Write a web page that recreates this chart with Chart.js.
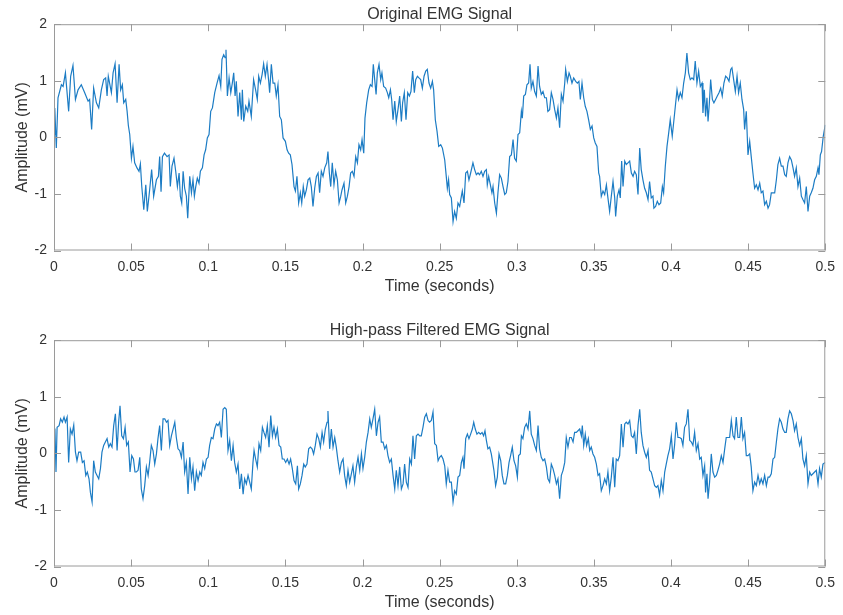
<!DOCTYPE html>
<html>
<head>
<meta charset="utf-8">
<title>EMG Signal</title>
<script src="https://cdn.jsdelivr.net/npm/chart.js@4.4.1/dist/chart.umd.min.js"></script>
<style>
  html, body { margin: 0; padding: 0; background: #fff; }
  body { width: 843px; height: 615px; position: relative; overflow: hidden; }
  .panel { position: absolute; left: 0; width: 843px; height: 299px; }
</style>
</head>
<body>
<div class="panel" style="top:0"><canvas id="emg-original" width="843" height="299"></canvas></div>
<div class="panel" style="top:316px"><canvas id="emg-filtered" width="843" height="299"></canvas></div>
<script>
// values (time in ms, amplitude in mV)
const origTimeMs = [
  0, 0.5, 1.5, 2.6, 4.8, 5.9, 7.4, 9.5, 10.8, 12.3, 13.9, 15.6, 17.7, 19.9, 22.1, 23.1, 24.4, 25.7, 27.5, 29.0,
  30.7, 32.2, 33.5, 34.4, 35.2, 37.2, 38.3, 39.6, 40.9, 42.2, 43.2, 44.3, 45.2, 46.5, 47.4, 48.2, 49.1, 50.2, 51.2, 52.3,
  53.8, 55.1, 56.0, 56.9, 58.2, 59.5, 60.5, 62.0, 63.3, 64.6, 66.4, 67.7, 68.5, 69.4, 70.3, 71.6, 73.3, 74.6, 75.4, 76.5,
  77.8, 78.9, 80.0, 81.1, 81.9, 82.8, 83.7, 84.7, 85.8, 86.7, 88.0, 89.1, 90.1, 91.0, 91.9, 92.9, 94.0, 94.9, 96.2, 97.3,
  98.3, 99.4, 100.5, 101.6, 102.7, 104.2, 105.7, 107.0, 108.1, 108.9, 110.0, 110.9, 111.5, 112.4, 113.5, 114.6, 115.6, 116.5, 117.4, 118.2,
  119.3, 120.4, 121.5, 122.1, 123.0, 124.3, 125.6, 126.4, 127.9, 129.4, 130.7, 131.8, 132.7, 133.8, 134.9, 135.9, 137.0, 138.1, 139.2, 139.8,
  140.9, 142.0, 143.1, 144.1, 145.2, 146.3, 147.4, 148.5, 150.0, 151.1, 152.1, 153.2, 154.3, 155.6, 156.5, 157.5, 158.6, 159.7, 160.6, 161.6,
  162.5, 163.6, 164.7, 165.8, 166.8, 167.9, 169.0, 170.1, 171.2, 172.2, 173.3, 174.4, 175.5, 176.8, 177.6, 178.5, 179.4, 180.4, 181.5, 182.6,
  183.7, 184.8, 185.9, 186.7, 188.0, 189.1, 190.2, 191.3, 192.3, 193.4, 194.5, 195.6, 196.7, 197.7, 198.8, 199.7, 200.8, 201.6, 202.7, 204.0,
  205.1, 206.2, 207.0, 207.9, 208.8, 209.6, 210.7, 211.8, 212.6, 213.7, 215.0, 216.1, 217.0, 218.1, 218.9, 219.8, 220.9, 221.9, 223.0, 224.1,
  225.2, 226.0, 227.1, 228.2, 229.3, 230.4, 231.4, 232.5, 233.6, 234.5, 235.6, 236.6, 237.7, 238.8, 239.9, 241.0, 242.0, 243.1, 244.2, 245.3,
  246.1, 247.2, 248.3, 249.4, 250.7, 251.8, 253.3, 254.3, 255.0, 255.8, 256.5, 257.6, 258.7, 259.7, 260.8, 261.9, 263.0, 264.1, 264.7, 265.8,
  266.9, 268.0, 269.0, 270.1, 271.6, 272.7, 273.8, 274.9, 275.9, 277.0, 278.1, 279.2, 280.3, 280.9, 281.8, 282.9, 283.9, 284.6, 285.7, 286.8,
  287.8, 288.9, 290.0, 291.1, 292.2, 293.2, 294.3, 295.4, 296.5, 297.6, 298.6, 299.7, 300.8, 301.9, 303.0, 303.6, 304.5, 305.6, 306.6, 307.7,
  308.6, 309.4, 310.5, 311.6, 312.7, 313.8, 314.8, 315.9, 317.0, 318.1, 319.2, 320.2, 321.3, 322.4, 323.5, 324.6, 325.7, 326.7, 327.8, 328.9,
  330.0, 331.1, 331.7, 332.8, 333.9, 334.7, 335.8, 336.9, 338.2, 339.3, 340.3, 341.2, 342.3, 343.4, 344.4, 345.5, 346.6, 347.7, 348.8, 349.9,
  350.9, 352.0, 353.1, 353.7, 354.8, 355.9, 357.0, 358.1, 359.1, 360.2, 361.3, 362.4, 363.5, 364.1, 365.2, 366.3, 367.1, 368.0, 368.9, 370.0,
  371.0, 372.1, 373.2, 374.3, 375.4, 376.4, 377.5, 378.6, 379.7, 380.7, 381.8, 382.9, 384.0, 385.1, 386.1, 387.2, 388.3, 388.9, 390.0, 391.1,
  392.2, 393.3, 394.4, 395.2, 396.3, 397.4, 398.5, 399.5, 400.8, 401.9, 402.8, 403.9, 404.9, 406.0, 407.1, 408.2, 409.3, 410.3, 411.4, 412.5,
  413.6, 414.7, 415.7, 416.8, 417.9, 419.0, 420.1, 420.7, 421.6, 422.4, 423.3, 424.0, 424.8, 425.7, 426.8, 427.8, 428.9, 430.0, 431.1, 432.2,
  433.2, 434.3, 435.4, 436.5, 437.6, 438.7, 439.5, 440.6, 441.7, 442.8, 443.8, 444.9, 446.0, 447.1, 447.7, 448.8, 449.9, 451.0, 452.0, 453.1,
  454.2, 455.3, 456.4, 457.5, 458.5, 459.6, 460.7, 461.8, 462.9, 463.9, 465.0, 466.1, 467.2, 468.3, 469.3, 470.4, 471.5, 472.6, 473.7, 474.7,
  475.8, 476.9, 478.0, 479.1, 480.1, 481.2, 482.3, 483.4, 484.5, 485.5, 486.6, 487.7, 488.8, 489.9, 490.9, 492.0, 493.1, 494.2, 495.3, 495.9,
  496.8, 497.6, 498.7, 500.0
];
const origAmp = [
  0.05, 0.52, -0.19, 0.70, 0.93, 0.90, 1.14, 0.46, 1.08, 1.27, 0.67, 0.84, 0.93, 0.79, 0.64, 0.67, 0.14, 0.87, 0.61, 0.52,
  0.84, 1.02, 1.05, 0.73, 1.08, 0.79, 1.14, 1.30, 0.61, 1.29, 0.84, 0.93, 0.61, 0.67, 0.46, 0.21, 0.05, -0.37, -0.16, -0.45,
  -0.54, -0.60, -0.47, -0.87, -1.28, -0.84, -1.31, -0.93, -0.57, -1.04, -0.75, -0.69, -0.34, -0.96, -0.34, -0.28, -0.34, -0.31, -0.87, -0.51,
  -0.37, -0.60, -0.87, -0.63, -1.04, -1.16, -0.60, -0.90, -1.04, -1.43, -0.69, -0.98, -0.75, -1.04, -0.87, -0.72, -0.81, -0.60, -0.54, -0.31,
  -0.22, -0.01, 0.05, 0.46, 0.52, 0.79, 0.96, 1.09, 0.90, 1.38, 1.46, 1.41, 1.55, 0.73, 1.05, 0.79, 0.96, 1.14, 0.73, 0.99,
  0.37, 0.79, 0.31, 0.84, 0.28, 0.55, 0.46, 0.64, 0.37, 1.02, 0.84, 0.67, 1.08, 0.96, 1.11, 1.30, 1.08, 1.29, 0.99, 0.79,
  1.29, 0.96, 0.96, 0.73, 0.93, 0.37, 0.31, -0.01, -0.07, -0.22, -0.28, -0.31, -0.48, -0.87, -0.95, -0.69, -1.16, -0.98, -1.16, -0.87,
  -1.04, -0.93, -0.75, -0.72, -0.87, -1.22, -0.90, -0.69, -0.63, -0.98, -0.60, -0.69, -0.54, -0.45, -0.25, -0.63, -0.87, -0.45, -0.84, -0.60,
  -0.75, -1.16, -1.04, -0.93, -0.81, -1.16, -1.04, -0.87, -0.63, -0.60, -0.69, -0.34, -0.45, -0.13, -0.22, -0.04, -0.28, 0.34, 0.61, 0.84,
  0.93, 0.90, 1.29, 1.02, 0.76, 1.14, 1.29, 1.02, 1.14, 0.90, 0.87, 0.79, 0.70, 0.84, 0.67, 0.31, 0.64, 0.28, 0.49, 0.73,
  0.28, 0.61, 0.79, 0.31, 0.79, 0.73, 0.81, 1.17, 0.79, 1.02, 1.08, 1.05, 1.02, 0.87, 1.08, 1.17, 1.20, 0.96, 0.87, 0.99,
  0.84, 0.31, 0.11, -0.16, -0.13, -0.19, -0.40, -0.69, -0.90, -0.75, -1.01, -1.07, -1.49, -1.31, -1.43, -1.16, -1.22, -1.04, -0.95, -1.16,
  -0.63, -0.60, -0.75, -0.63, -0.45, -0.57, -0.66, -0.63, -0.66, -0.60, -0.69, -0.60, -0.57, -0.84, -0.69, -0.84, -0.98, -0.87, -1.16, -1.34,
  -0.98, -0.66, -0.72, -0.87, -1.01, -0.98, -0.78, -0.34, -0.31, -0.04, -0.37, -0.42, 0.05, 0.08, 0.46, 0.34, 0.73, 0.76, 0.93, 0.96,
  1.29, 0.87, 0.99, 0.81, 0.73, 1.26, 0.90, 0.76, 0.81, 0.70, 0.70, 0.46, 0.49, 0.79, 0.67, 0.49, 0.34, 0.52, 0.17, 0.76,
  0.64, 0.96, 1.20, 0.99, 1.14, 1.08, 0.96, 1.05, 0.99, 0.96, 0.99, 0.67, 0.96, 0.70, 0.55, 0.46, 0.31, 0.14, 0.20, -0.01,
  -0.10, -0.16, -0.63, -0.69, -1.04, -0.95, -1.01, -0.84, -1.07, -1.31, -1.04, -0.78, -1.07, -1.40, -1.04, -0.93, -1.07, -0.42, -0.87, -0.42,
  -0.48, -0.45, -0.42, -0.63, -0.69, -0.60, -0.66, -1.01, -0.19, -0.57, -0.75, -0.90, -0.98, -1.10, -0.78, -1.07, -1.04, -1.25, -1.22, -1.13,
  -1.19, -1.16, -0.87, -0.98, -0.51, -0.16, 0.08, 0.31, 0.02, 0.31, 0.55, 0.84, 0.67, 0.79, 0.70, 0.96, 1.14, 1.49, 1.14, 1.02,
  1.05, 1.02, 1.35, 0.96, 1.17, 0.90, 0.96, 0.43, 0.84, 0.37, 0.70, 0.28, 0.58, 1.02, 0.67, 0.61, 0.67, 0.73, 0.79, 0.87,
  0.73, 0.96, 1.08, 1.05, 0.99, 1.20, 1.23, 1.02, 0.81, 1.08, 0.79, 0.96, 0.67, 0.49, 0.14, 0.46, -0.31, -0.07, -0.34, -0.63,
  -0.90, -0.84, -0.93, -0.81, -0.98, -0.95, -1.19, -1.13, -1.25, -1.19, -0.98, -0.98, -0.98, -0.75, -0.48, -0.37, -0.51, -0.51, -0.66, -0.69,
  -0.45, -0.34, -0.40, -0.54, -0.69, -0.54, -0.87, -0.72, -1.04, -1.10, -1.16, -0.87, -1.31, -1.04, -0.98, -0.90, -0.75, -0.69, -0.54, -0.66,
  -0.31, -0.25, 0.02, 0.22
];

const filtTimeMs = [
  0, 0.6, 1.3, 2.0, 3.3, 4.3, 5.4, 6.5, 7.4, 8.5, 9.5, 10.6, 11.7, 12.8, 13.9, 14.9, 16.0, 17.3, 18.4, 19.5,
  20.6, 21.6, 22.7, 23.6, 24.7, 25.7, 26.8, 27.9, 29.0, 30.1, 31.1, 32.2, 33.3, 34.4, 35.5, 36.5, 37.6, 38.7, 39.8, 40.9,
  41.9, 42.8, 43.9, 45.0, 46.1, 47.1, 48.2, 49.3, 50.4, 51.5, 52.5, 53.4, 54.5, 55.6, 56.6, 57.7, 58.8, 59.9, 61.0, 62.0,
  63.1, 64.2, 65.3, 66.4, 67.4, 68.5, 69.6, 70.7, 71.8, 72.9, 73.9, 75.0, 76.1, 77.2, 78.3, 79.3, 80.4, 81.5, 82.6, 83.7,
  84.7, 85.8, 86.9, 88.0, 89.1, 90.1, 91.2, 92.3, 93.4, 94.5, 95.5, 96.6, 97.7, 98.8, 99.9, 100.9, 102.0, 103.1, 104.2, 105.3,
  106.3, 107.4, 108.5, 109.6, 110.7, 111.7, 112.8, 113.9, 115.0, 116.1, 117.1, 118.2, 119.3, 120.4, 121.5, 122.6, 123.6, 124.7, 125.8, 127.9,
  129.0, 129.7, 130.7, 131.8, 132.9, 134.0, 135.1, 136.1, 137.2, 138.3, 139.4, 140.5, 141.6, 142.6, 143.7, 144.8, 145.9, 147.0, 148.0, 149.1,
  150.2, 151.3, 152.4, 153.4, 154.5, 155.6, 156.7, 157.8, 158.6, 159.7, 160.8, 161.9, 162.9, 164.0, 165.1, 166.2, 167.3, 168.3, 169.4, 170.5,
  171.6, 172.7, 173.8, 174.8, 175.9, 177.0, 177.6, 178.7, 179.8, 180.9, 182.0, 183.0, 184.1, 185.2, 186.3, 187.4, 188.4, 189.5, 190.6, 191.7,
  192.8, 193.8, 194.9, 196.0, 197.1, 198.2, 199.3, 200.3, 201.4, 202.5, 203.6, 204.7, 205.7, 206.8, 207.9, 209.0, 210.1, 211.1, 212.2, 213.3,
  214.4, 215.5, 216.5, 217.6, 218.7, 219.8, 220.9, 221.9, 223.0, 224.1, 225.2, 226.3, 227.3, 228.4, 229.5, 230.6, 231.7, 232.7, 233.8, 234.9,
  236.0, 237.1, 238.1, 239.2, 240.3, 241.4, 242.5, 243.5, 244.6, 245.7, 246.8, 247.9, 249.0, 250.0, 251.1, 252.2, 253.3, 254.3, 255.4, 256.5,
  257.6, 258.7, 259.7, 260.8, 261.9, 263.0, 264.1, 265.1, 265.8, 266.9, 268.0, 269.0, 270.1, 271.2, 272.1, 273.1, 274.2, 275.3, 276.4, 277.5,
  278.5, 279.4, 280.3, 281.3, 282.4, 283.5, 284.2, 285.2, 286.3, 287.4, 288.5, 289.6, 290.6, 291.7, 292.8, 293.9, 295.0, 296.0, 297.1, 298.2,
  299.3, 300.4, 301.2, 302.3, 303.0, 304.0, 305.1, 306.2, 307.3, 308.4, 309.4, 310.5, 311.6, 312.7, 313.8, 314.8, 315.9, 317.0, 318.1, 319.2,
  320.2, 321.3, 322.4, 323.5, 324.6, 325.7, 326.7, 327.8, 328.9, 330.0, 331.1, 332.1, 333.2, 334.3, 335.4, 336.5, 337.5, 338.6, 339.7, 340.8,
  341.9, 342.5, 343.4, 344.4, 345.3, 346.4, 347.3, 348.3, 349.4, 350.5, 351.6, 352.7, 353.7, 354.8, 355.9, 357.0, 358.1, 359.1, 360.2, 361.3,
  362.4, 363.5, 364.5, 365.6, 366.7, 367.8, 368.9, 370.0, 371.0, 372.1, 373.2, 374.3, 375.4, 376.4, 377.5, 378.6, 379.7, 380.7, 381.8, 382.9,
  384.0, 385.1, 386.1, 387.2, 388.3, 389.4, 390.5, 391.5, 392.6, 393.7, 394.8, 395.9, 396.9, 398.0, 399.1, 400.2, 401.3, 402.3, 403.4, 404.5,
  405.6, 406.7, 407.7, 408.8, 409.9, 411.0, 412.1, 413.2, 414.2, 415.3, 416.4, 417.5, 418.6, 419.6, 420.7, 421.8, 422.4, 423.3, 424.0, 425.0,
  426.1, 427.2, 428.3, 429.4, 430.4, 431.5, 432.6, 433.7, 434.8, 435.8, 436.9, 438.0, 439.1, 440.2, 441.2, 442.3, 443.4, 444.5, 445.6, 446.6,
  447.7, 448.8, 449.9, 451.0, 452.0, 453.1, 454.2, 455.3, 456.4, 457.5, 458.5, 459.6, 460.7, 461.8, 462.9, 463.9, 465.0, 466.1, 467.2, 468.3,
  469.3, 470.4, 471.5, 472.6, 473.7, 474.7, 475.8, 476.9, 478.0, 479.1, 480.1, 481.2, 482.3, 483.4, 484.5, 485.5, 486.6, 487.7, 488.8, 489.9,
  490.9, 492.0, 493.1, 494.2, 495.3, 496.3, 497.4, 498.5, 500.0
];
const filtAmp = [
  0.05, 0.44, -0.33, 0.46, 0.49, 0.61, 0.55, 0.64, 0.55, 0.64, -0.16, 0.43, 0.34, 0.50, 0.02, -0.13, 0.02, 0.02, -0.16, -0.13,
  -0.39, -0.33, -0.45, -0.69, -0.86, -0.13, -0.33, -0.39, -0.45, -0.27, 0.02, 0.14, 0.20, 0.26, 0.11, 0.17, 0.11, 0.49, 0.70, 0.05,
  0.55, 0.84, 0.31, 0.26, 0.46, 0.14, 0.20, -0.33, -0.04, -0.10, -0.33, -0.33, -0.30, -0.07, -0.63, -0.80, -0.57, -0.24, -0.39, -0.16,
  0.14, 0.05, -0.19, -0.01, 0.26, 0.49, 0.05, 0.61, 0.61, 0.55, 0.58, 0.14, 0.31, 0.43, 0.55, 0.28, 0.08, 0.05, -0.07, 0.20,
  -0.33, -0.16, -0.72, -0.07, -0.45, -0.24, -0.66, -0.33, -0.48, -0.33, -0.39, -0.16, -0.27, -0.10, -0.07, 0.14, 0.28, 0.26, 0.43, 0.52,
  0.49, 0.55, 0.28, 0.78, 0.81, 0.78, 0.05, 0.23, -0.13, 0.14, -0.16, -0.33, -0.19, -0.63, -0.36, -0.72, -0.45, -0.54, -0.39, -0.63,
  -0.16, 0.05, -0.10, -0.24, 0.17, 0.05, 0.46, 0.37, 0.28, 0.49, 0.11, 0.67, 0.31, 0.46, 0.28, 0.43, 0.14, 0.11, -0.10, -0.10,
  -0.16, -0.10, -0.19, -0.10, -0.27, -0.48, -0.54, -0.22, -0.63, -0.54, -0.39, -0.19, -0.24, -0.19, 0.08, 0.11, 0.08, -0.01, 0.14, 0.34,
  0.26, 0.11, 0.37, 0.20, 0.43, 0.55, 0.75, 0.08, 0.43, 0.11, 0.28, 0.11, -0.13, -0.33, -0.16, -0.10, -0.39, -0.57, -0.30, -0.51,
  -0.36, -0.22, -0.51, -0.24, -0.07, -0.30, -0.01, -0.27, -0.07, 0.20, 0.37, 0.61, 0.46, 0.61, 0.78, 0.31, 0.55, 0.64, 0.20, 0.20,
  0.08, 0.14, -0.04, -0.16, -0.10, -0.39, -0.63, -0.30, -0.57, -0.24, -0.63, -0.54, -0.19, -0.51, -0.60, -0.10, -0.19, 0.31, -0.10, 0.31,
  0.34, 0.31, 0.31, 0.46, 0.64, 0.70, 0.58, 0.55, 0.58, 0.73, 0.17, 0.14, -0.13, -0.07, -0.04, -0.10, -0.22, -0.54, -0.30, -0.51,
  -0.51, -0.86, -0.66, -0.72, -0.42, -0.39, -0.16, -0.07, -0.27, 0.26, 0.34, 0.26, 0.34, 0.43, 0.55, 0.43, 0.34, 0.37, 0.34, 0.37,
  0.31, 0.40, 0.23, 0.08, 0.11, -0.01, -0.13, -0.30, -0.57, -0.42, -0.01, -0.13, -0.39, -0.54, -0.54, -0.39, -0.16, -0.04, 0.11, -0.13,
  -0.22, -0.42, -0.04, -0.01, 0.31, 0.26, 0.46, 0.52, 0.43, 0.75, 0.34, 0.26, 0.14, 0.05, 0.49, 0.08, -0.07, -0.13, -0.10, -0.24,
  -0.45, -0.51, -0.19, -0.27, -0.39, -0.54, -0.45, -0.80, -0.39, -0.30, -0.16, 0.28, 0.11, 0.28, 0.28, 0.20, 0.37, 0.37, 0.40, 0.43,
  0.31, 0.49, 0.14, 0.34, 0.14, 0.26, 0.05, 0.11, -0.01, -0.07, -0.19, -0.39, -0.36, -0.66, -0.57, -0.45, -0.54, -0.33, -0.66, -0.42,
  -0.07, -0.60, -0.10, -0.13, -0.04, 0.52, 0.11, 0.52, 0.55, 0.52, 0.58, 0.31, 0.28, 0.37, -0.01, 0.49, 0.78, 0.37, 0.14, 0.02,
  -0.07, 0.05, -0.30, -0.33, -0.45, -0.57, -0.60, -0.57, -0.74, -0.48, -0.66, -0.33, -0.19, -0.04, 0.08, 0.31, -0.10, 0.14, 0.55, 0.28,
  0.28, 0.26, 0.14, 0.46, 0.52, 0.78, 0.23, 0.20, 0.14, 0.37, 0.05, 0.17, -0.10, -0.07, -0.39, -0.22, -0.69, -0.36, -0.80, -0.51,
  -0.01, -0.33, -0.42, -0.39, -0.30, -0.19, -0.04, -0.16, 0.08, 0.28, 0.28, 0.28, 0.58, 0.31, 0.26, 0.64, 0.28, 0.28, 0.64, 0.26,
  0.37, -0.04, -0.04, -0.01, -0.24, -0.66, -0.51, -0.57, -0.39, -0.54, -0.45, -0.54, -0.39, -0.57, -0.42, -0.42, -0.36, -0.10, -0.07, 0.20,
  0.43, 0.61, 0.55, 0.43, 0.37, 0.37, 0.61, 0.75, 0.70, 0.58, 0.40, 0.52, 0.28, 0.14, 0.26, -0.10, -0.22, -0.04, -0.54, -0.33,
  -0.39, -0.36, -0.33, -0.30, -0.54, -0.27, -0.42, -0.19, -0.16
];

const xTickValues = [0, 0.05, 0.1, 0.15, 0.2, 0.25, 0.3, 0.35, 0.4, 0.45, 0.5];
const xTickLabels = ['0', '0.05', '0.1', '0.15', '0.2', '0.25', '0.3', '0.35', '0.4', '0.45', '0.5'];
const yTickValues = [-2, -1, 0, 1, 2];
const yTickLabels = ['-2', '-1', '0', '1', '2'];

const LINE_COLOR = 'rgb(28, 124, 196)';
const AXIS_COLOR = '#9a9a9a';
const TEXT_COLOR = '#333333';
const FONT = "'Liberation Sans', Arial, Helvetica, sans-serif";
const TICK_LEN = 7;

// MATLAB style box with inward ticks on all four sides
const axesBox = {
  id: 'axesBox',
  afterDatasetsDraw(chart) {
    const { ctx, chartArea: a, scales } = chart;
    const x = scales.x, y = scales.y;
    ctx.save();
    ctx.strokeStyle = AXIS_COLOR;
    ctx.lineWidth = 1;
    ctx.strokeRect(a.left + 0.5, a.top + 0.5, a.right - a.left - 1, a.bottom - a.top - 1);
    ctx.beginPath();
    xTickValues.forEach((v) => {
      const px = Math.round(x.getPixelForValue(v)) + 0.5;
      ctx.moveTo(px, a.bottom);
      ctx.lineTo(px, a.bottom - TICK_LEN);
      ctx.moveTo(px, a.top);
      ctx.lineTo(px, a.top + TICK_LEN);
    });
    yTickValues.forEach((v) => {
      const py = Math.round(y.getPixelForValue(v)) + 0.5;
      ctx.moveTo(a.left, py);
      ctx.lineTo(a.left + TICK_LEN, py);
      ctx.moveTo(a.right, py);
      ctx.lineTo(a.right - TICK_LEN, py);
    });
    ctx.stroke();
    ctx.restore();
  }
};

function toPoints(timesMs, amps) {
  return timesMs.map((t, i) => ({ x: t / 1000, y: amps[i] }));
}

function makeChart(canvasId, titleText, timesMs, amps) {
  return new Chart(document.getElementById(canvasId), {
    type: 'line',
    data: {
      datasets: [{
        data: toPoints(timesMs, amps),
        borderColor: LINE_COLOR,
        borderWidth: 1.2,
        pointRadius: 0,
        tension: 0,
        fill: false,
      }]
    },
    options: {
      responsive: false,
      animation: false,
      events: [],
      layout: { padding: { left: 0, right: 17, top: 0, bottom: 0 } },
      plugins: {
        legend: { display: false },
        tooltip: { enabled: false },
        title: {
          display: true,
          text: titleText,
          color: TEXT_COLOR,
          fullSize: false,
          font: { family: FONT, size: 16, weight: 'normal' },
          padding: { top: 5, bottom: 0 },
        },
      },
      scales: {
        x: {
          type: 'linear',
          min: 0,
          max: 0.5,
          afterBuildTicks: (s) => { s.ticks = xTickValues.map((v) => ({ value: v })); },
          afterFit: (s) => { s.height = 48.5; },
          grid: { display: false, drawTicks: false },
          border: { display: false },
          ticks: {
            padding: 8,
            color: TEXT_COLOR,
            font: { family: FONT, size: 14 },
            maxRotation: 0,
            autoSkip: false,
            callback: (v, i) => xTickLabels[i],
          },
          title: {
            display: true,
            text: 'Time (seconds)',
            color: TEXT_COLOR,
            font: { family: FONT, size: 16 },
            padding: { top: 0, bottom: 2.4 },
          },
        },
        y: {
          type: 'linear',
          min: -2,
          max: 2,
          afterBuildTicks: (s) => { s.ticks = yTickValues.map((v) => ({ value: v })); },
          afterFit: (s) => { s.width = 54; },
          grid: { display: false, drawTicks: false },
          border: { display: false },
          ticks: {
            padding: 7,
            color: TEXT_COLOR,
            font: { family: FONT, size: 14 },
            callback: (v, i) => yTickLabels[i],
          },
          title: {
            display: true,
            text: 'Amplitude (mV)',
            color: TEXT_COLOR,
            font: { family: FONT, size: 16 },
            padding: { top: 13, bottom: 0 },
          },
        },
      },
    },
    plugins: [axesBox],
  });
}

makeChart('emg-original', 'Original EMG Signal', origTimeMs, origAmp);
makeChart('emg-filtered', 'High-pass Filtered EMG Signal', filtTimeMs, filtAmp);
</script>
</body>
</html>
